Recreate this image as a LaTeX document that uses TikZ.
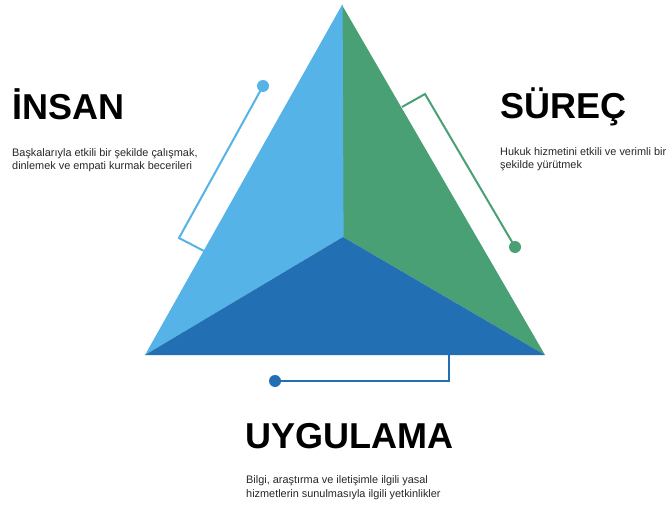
\documentclass[tikz,border=0pt]{standalone}
\usepackage{fontspec}
\setmainfont{Liberation Sans}
\definecolor{lightblue}{HTML}{56B3E7}
\definecolor{facegreen}{HTML}{48A074}
\definecolor{darkblue}{HTML}{2270B3}
\definecolor{bodytext}{HTML}{262626}
\tikzset{
  heading/.style={anchor=base west, inner sep=0pt, font=\fontsize{36}{36}\selectfont\bfseries, text=black},
  bodytxt/.style={anchor=base west, inner sep=0pt, font=\fontsize{10.9}{13.5}\selectfont, text=bodytext, align=left},
  link/.style={line width=2pt, line join=miter},
}
\begin{document}
\begin{tikzpicture}[x=1pt,y=-1pt]
\useasboundingbox (0,0) rectangle (667,505);
% vertices
\coordinate (apex) at (342,5);
\coordinate (bl) at (145,355);
\coordinate (br) at (545,355);
\coordinate (mid) at (343,237);
% faces
\fill[facegreen] (apex) -- (mid) -- (br) -- cycle;
\fill[lightblue] (apex) -- (bl) -- (mid) -- ([xshift=0.6pt]mid) -- ([xshift=0.6pt]apex) -- cycle;
\fill[darkblue] (bl) -- (br) -- (mid) -- cycle;
% left connector
\coordinate (ldot) at (263,86);
\coordinate (lbend) at (179,238);
\coordinate (lend) at (204,251);
\draw[link, lightblue] (ldot) -- (lbend) -- (lend);
\fill[lightblue] (ldot) circle (6);
% right connector
\coordinate (rstart) at (402,107);
\coordinate (rbend) at (425,94);
\coordinate (rdot) at (515,247);
\draw[link, facegreen] (rstart) -- (rbend) -- (rdot);
\fill[facegreen] (rdot) circle (6);
% bottom connector
\coordinate (bstart) at (449,355);
\coordinate (bbend) at (449,381);
\coordinate (bdot) at (275,381);
\draw[link, darkblue] (bstart) -- (bbend) -- (bdot);
\fill[darkblue] (bdot) circle (6);
% texts
\node[heading] (insan) at (12,120) {İNSAN};
\node[bodytxt] (insantxt) at (12,170) {Başkalarıyla etkili bir şekilde çalışmak,\\dinlemek ve empati kurmak becerileri};
\node[heading] (surec) at (500,119) {SÜREÇ};
\node[bodytxt] (surectxt) at (500,169) {Hukuk hizmetini etkili ve verimli bir\\şekilde yürütmek};
\node[heading] (uyg) at (245,448) {UYGULAMA};
\node[bodytxt] (uygtxt) at (246,497) {Bilgi, araştırma ve iletişimle ilgili yasal\\hizmetlerin sunulmasıyla ilgili yetkinlikler};
\end{tikzpicture}
\end{document}
